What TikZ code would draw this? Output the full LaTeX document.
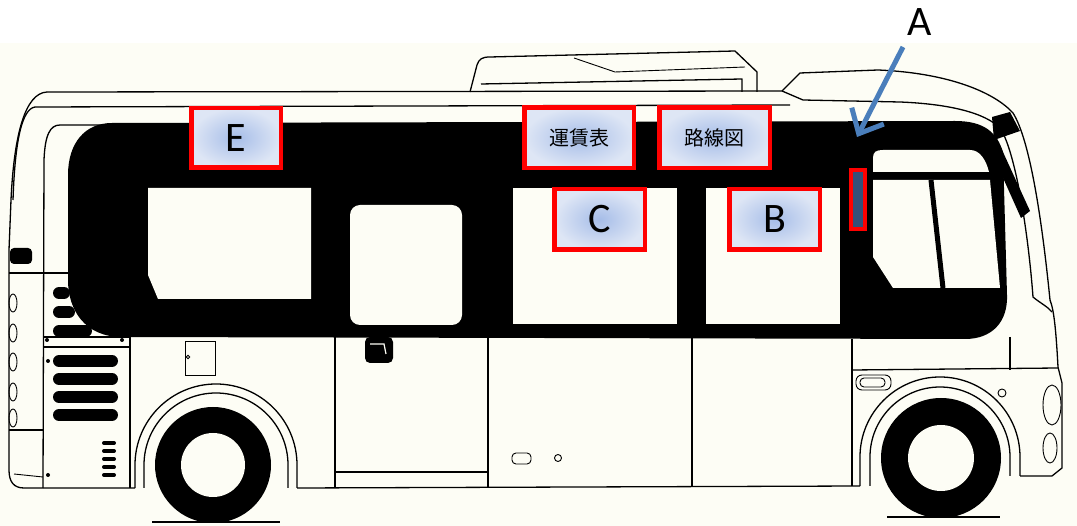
\documentclass[tikz,border=0pt]{standalone}
\usepackage{fontspec}
\setmainfont{Carlito}
\newfontfamily\jpfont{Noto Sans CJK JP}
\usetikzlibrary{arrows.meta}
\definecolor{cream}{HTML}{FDFDF5}
\definecolor{boxin}{RGB}{166,189,232}
\definecolor{boxout}{RGB}{222,230,245}
\definecolor{arrblue}{HTML}{4A7EBB}
\definecolor{afill}{HTML}{34507A}
\begin{document}
\begin{tikzpicture}[x=1pt,y=-1pt,
  ln/.style={draw=black,line width=1.3pt,line join=round},
  thinln/.style={draw=black,line width=0.9pt},
  lbl/.style={draw=red,line width=4.5pt,inner color=boxin,outer color=boxout,inner sep=0pt,font=\fontsize{42}{42}\selectfont},
  jplbl/.style={lbl,font=\jpfont\fontsize{20}{20}\selectfont},
  slot/.style={line width=12pt,line cap=round},
  gslot/.style={line width=4pt,line cap=round},
]
\useasboundingbox (0,0) rectangle (1077,526);
\fill[white] (0,0) rectangle (1077,526);
\fill[cream] (0,43) rectangle (1077,526);

% black window band
\fill[black] (112,123) -- (955,121) .. controls (985,121) and (997,133) .. (1003,152) -- (1007,295) .. controls (1008,322) and (992,339) .. (965,339) -- (122,337) .. controls (85,337) and (68,310) .. (68,280) -- (68,175) .. controls (68,143) and (85,123) .. (112,123) -- cycle;

% windows
\fill[cream] (148,188) -- (311,188) -- (311,299) -- (158,299) -- (148,275) -- cycle;
\fill[cream,rounded corners=10pt] (350,205) rectangle (462,325);
\fill[cream] (513,188) rectangle (677,324);
\fill[cream] (706,188) rectangle (840,324);
\fill[cream] (873,172) -- (873,158) .. controls (873,152) and (876,150) .. (883,150) -- (970,150) .. controls (980,150) and (986,160) .. (989,172) -- cycle;
\fill[cream] (873,180) -- (990,180) -- (1000,288) -- (893,288) -- (873,257) -- cycle;
\draw[line width=5pt] (931,180) -- (943,288);

% roof
\draw[ln] (47,92) -- (782,91);
\draw[ln] (35,107) -- (790,105);
\draw[ln] (47,92) .. controls (25,93) and (14,135) .. (11,200) -- (9,250) -- (9,470) .. controls (9,482) and (14,488) .. (24,488) -- (135,488);
\draw[ln] (35,107) .. controls (22,109) and (15,140) .. (13,200);
\draw[ln] (112,125) -- (60,125) .. controls (50,125) and (45,135) .. (44,160) -- (43,488);

% air conditioner
\draw[ln] (470,92) -- (477,65) .. controls (479,59) and (482,57) .. (490,57) -- (735,51) -- (757,72) -- (757,92);
\draw[ln] (481,84) -- (742,79) -- (742,92);
\draw[thinln] (574,58) -- (615,72) -- (745,67);

% front cap
\draw[ln] (782,91) -- (800,73) -- (878,70) .. controls (950,73) and (995,93) .. (1013,113) .. controls (1030,140) and (1042,220) .. (1050,300);
\draw[ln] (782,91) -- (803,100) -- (900,102) .. controls (950,104) and (985,113) .. (1000,128) .. controls (1015,150) and (1028,230) .. (1033,297) .. controls (1040,303) and (1047,306) .. (1052,312);
\draw[ln] (1050,300) .. controls (1054,310) and (1056,330) .. (1058,367) -- (1062,383) -- (1062,468) -- (1052,476) -- (1020,476);
% mirror
\fill (992,117) -- (1010,112) -- (1020,131) -- (994,140) -- cycle;
\fill (987,142) -- (997,139) -- (1030,211) -- (1021,218) -- cycle;

% rear details
\draw[ln] (9,273) -- (68,273);
\draw[ln] (43,337) -- (130,337);
\draw[ln] (43,347) -- (130,347);
\draw[ln] (130,337) -- (130,488);
\draw[ln] (9,430) -- (43,430);
\draw[thinln] (14,474) -- (43,477);
\fill[rounded corners=4pt] (10,248) rectangle (32,264);
\foreach \yy in {303,333,362,392,418} \draw[thinln] (13,\yy) ellipse (4 and 9);
\draw[slot] (59,293) -- (64,293);
\draw[slot] (59,312) -- (69,312);
\draw[slot] (59,331) -- (86,331);
\foreach \yy in {361,379,397,415} \draw[slot] (59,\yy) -- (112,\yy);
\foreach \yy in {443,451,459,467,475} \draw[gslot] (104,\yy) -- (114,\yy);
\foreach \p in {(47,340),(122,340),(48,361),(48,475)} \fill \p circle (2);

% lower body
\draw[ln] (335,337) -- (335,488);
\draw[ln] (488,337) -- (488,488);
\draw[ln] (335,472) -- (488,472);
\draw[ln] (692,338) -- (692,487);
\draw[ln] (852,339) -- (852,486);
\draw[ln] (297,488) -- (860,486);
\draw[ln] (852,370) -- (1058,368);
\draw[ln] (1010,337) -- (1010,370);

% wheel arches
\draw[ln] (135,488) -- (135,465) arc (180:360:81) -- (297,488);
\draw[ln] (144,488) -- (144,465) arc (180:360:72) -- (288,488);
\draw[ln] (860,486) -- (860,457) arc (180:360:80) -- (1020,476);
\draw[ln] (870,486) -- (870,457) arc (180:360:70) -- (1010,476);

% tyres
\fill (213,465) circle (58);
\fill[cream] (213,465) circle (32);
\fill (941,458) circle (60);
\fill[cream] (941,458) circle (33);
\draw[ln] (152,522) -- (280,522);
\draw[ln] (887,517) -- (1000,517);

% small parts
\draw[thinln] (185,341) rectangle (215,375);
\draw[thinln] (188,357) circle (1.8);
\fill[rounded corners=5pt] (365,337) rectangle (393,363);
\draw[cream,line width=1.2pt] (370,344) -- (384,344) -- (386,354);
\draw[thinln,rounded corners=4pt] (512,453) rectangle (531,464);
\draw[thinln] (558,458) circle (3.5);
\draw[thinln,rounded corners=6pt] (856,375) rectangle (891,390);
\draw[thinln,rounded corners=4pt] (860,378) rectangle (885,387);
\draw[thinln] (1002,393) circle (4);
\draw[thinln] (1052,405) ellipse (9 and 20);
\draw[thinln] (1050,448) ellipse (7 and 15);

% labels
\node[lbl,minimum width=89.5pt,minimum height=59.5pt] (E) at (236,138) {E};
\node[jplbl,minimum width=109.5pt,minimum height=60.5pt] (fare) at (579,138) {運賃表};
\node[jplbl,minimum width=110.5pt,minimum height=60.5pt] (route) at (714.5,138) {路線図};
\node[lbl,minimum width=90.5pt,minimum height=60.5pt] (C) at (599.5,219.5) {C};
\node[lbl,minimum width=90.5pt,minimum height=60.5pt] (B) at (774.5,219.5) {B};
\node[draw=red,line width=4pt,fill=afill,minimum width=14pt,minimum height=58.5pt,inner sep=0pt] (Abox) at (858,199.5) {};
\node[font=\fontsize{42}{42}\selectfont,inner sep=0pt] (Alab) at (920,22) {A};
\coordinate (arrS) at (903,47);
\coordinate (arrT) at (857,137);
\draw[arrblue,line width=5pt,-{Straight Barb[length=20pt,width=36pt]}] (arrS) -- (arrT);
\end{tikzpicture}
\end{document}
